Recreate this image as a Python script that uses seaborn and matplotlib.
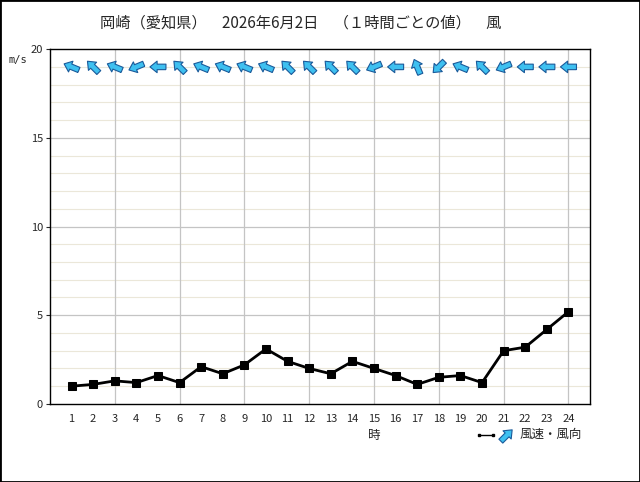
import numpy as np
import pandas as pd
import matplotlib
matplotlib.use("Agg")
import matplotlib.pyplot as plt
import seaborn as sns
from matplotlib.lines import Line2D
from matplotlib.patches import Rectangle

# データ（1時間ごとの値）
hours = list(range(1, 25))
speed = [1.0, 1.1, 1.3, 1.2, 1.6, 1.2, 2.1, 1.7, 2.2, 3.1, 2.4, 2.0,
         1.7, 2.4, 2.0, 1.6, 1.1, 1.5, 1.6, 1.2, 3.0, 3.2, 4.2, 5.2]
direction = ["東南東", "南東", "東南東", "東北東", "東", "南東", "東南東", "東南東",
             "東南東", "東南東", "南東", "南東", "南東", "南東", "東北東", "東",
             "南南東", "北東", "東南東", "南東", "東北東", "東", "東", "東"]
bearing = {"北": 0, "北北東": 22.5, "北東": 45, "東北東": 67.5, "東": 90,
           "東南東": 112.5, "南東": 135, "南南東": 157.5, "南": 180}
title = "岡崎（愛知県）　2026年6月2日　（１時間ごとの値）　風"

df = pd.DataFrame({"時": hours, "風速": speed, "風向": direction})
# 矢印は風が吹いていく向き
to = np.deg2rad(df["風向"].map(bearing) + 180)
df["u"] = np.sin(to)
df["v"] = np.cos(to)

sns.set_style("white")
plt.rcParams["font.family"] = ["Noto Sans CJK JP", "DejaVu Sans"]

fig = plt.figure(figsize=(6.4, 4.82), dpi=100)
ax = fig.add_axes([0.078, 0.162, 0.844, 0.736])

# グリッド
for y in range(1, 20):
    if y % 5 != 0:
        ax.axhline(y, color="#ebe7d9", lw=0.8, zorder=0)
for y in [5, 10, 15]:
    ax.axhline(y, color="#c4c4c4", lw=0.9, zorder=0)
for x in range(3, 25, 3):
    ax.axvline(x, color="#c4c4c4", lw=0.9, zorder=0)

sns.lineplot(data=df, x="時", y="風速", ax=ax, color="black", lw=2,
             marker="s", markersize=6, markeredgecolor="black")

arrow_kw = dict(units="inches", scale_units="inches", scale=1 / 0.16,
                width=0.055, headwidth=2.1, headlength=1.3, headaxislength=1.3,
                color="#3ec0f0", edgecolor="#1a5a9a", linewidth=0.8)
q = ax.quiver(df["時"], np.full(len(df), 19.0), df["u"], df["v"],
              angles="uv", pivot="middle", zorder=5, **arrow_kw)

ax.set_xlim(0, 25)
ax.set_ylim(0, 20)
ax.set_xticks(hours)
ax.set_yticks([0, 5, 10, 15, 20])
ax.tick_params(axis="x", length=0, labelsize=8, pad=7)
ax.tick_params(axis="y", length=3, direction="out", labelsize=8, pad=2, left=True)
ax.set_xlabel("")
ax.set_ylabel("")
for s in ax.spines.values():
    s.set_color("black")
    s.set_linewidth(1)

fig.text(0.47, 0.953, title, ha="center", va="center", fontsize=11)
fig.text(0.014, 0.875, "m/s", ha="left", va="center", fontsize=7.5,
         family="DejaVu Sans Mono")
fig.text(0.585, 0.097, "時", ha="center", va="center", fontsize=9)

# 凡例
fig.add_artist(Line2D([0.748, 0.770], [0.098, 0.098], color="black", lw=1,
                      marker="s", markersize=2))
ax.quiverkey(q, 0.79, 0.098, 1, " ", labelpos="N", coordinates="figure",
             angle=45)
fig.text(0.812, 0.098, "風速・風向", ha="left", va="center", fontsize=9)

fig.add_artist(Rectangle((0, 0), 1, 1, transform=fig.transFigure, fill=False,
                         edgecolor="black", lw=2))

fig.savefig("out.png", dpi=100)
